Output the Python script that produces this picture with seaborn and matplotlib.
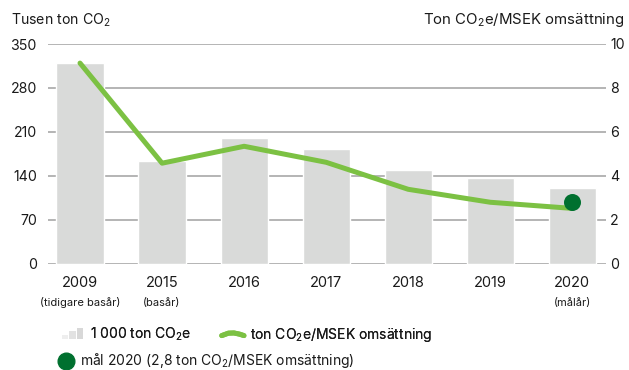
import matplotlib
matplotlib.use("Agg")
import matplotlib.pyplot as plt
import seaborn as sns
import pandas as pd
from matplotlib.patches import Rectangle
from matplotlib.lines import Line2D
from matplotlib.legend_handler import HandlerBase
import matplotlib.transforms as mtransforms

# Data
years = ["2009", "2015", "2016", "2017", "2018", "2019", "2020"]
year_notes = ["(tidigare basår)", "(basår)", "", "", "", "", "(målår)"]
emissions_kt = [320, 163, 200, 182, 149, 136, 120]          # tusen ton CO2e
intensity = [9.13, 4.57, 5.34, 4.61, 3.38, 2.79, 2.51]       # ton CO2e / MSEK
goal_year = "2020"
goal_value = 2.8

left_ticks = [0, 70, 140, 210, 280, 350]
right_ticks = [0, 2, 4, 6, 8, 10]

BAR = "#d9dad9"
LINE = "#7cc143"
DOT = "#00702f"
GRID = "#a0a0a0"
TXT = "#1a1a1a"

sns.set_style("white")
plt.rcParams["font.family"] = ["Inter", "DejaVu Sans"]
plt.rcParams["mathtext.default"] = "regular"
plt.rcParams["text.color"] = TXT

CO2 = "CO$_2$"

df = pd.DataFrame({"year": years, "pos": range(len(years)),
                   "emissions": emissions_kt, "intensity": intensity})

fig = plt.figure(figsize=(6.29, 3.70), dpi=100)
ax = fig.add_axes([48 / 629, 1 - 263.5 / 370, (606 - 48) / 629, (263.5 - 44) / 370])

# gridlines behind bars
for t in left_ticks:
    ax.axhline(t, color=GRID, lw=1.1, zorder=0)

sns.barplot(data=df, x="pos", y="emissions", color=BAR, width=0.575,
            saturation=1, ax=ax, zorder=2, native_scale=True)
xlim = (-0.39, 6.41)
ax.set_xlim(*xlim)
ax.set_ylim(0, 350)
ax.set_yticks(left_ticks)
ax.set_yticklabels([str(t) for t in left_ticks], fontsize=10.2)
ax.set_xticks(range(len(years)))
ax.set_xticklabels(years, fontsize=10.5)
ax.tick_params(axis="both", length=0, pad=8, colors=TXT)
ax.tick_params(axis="x", pad=9)
ax.set_xlabel("")
ax.set_ylabel("")
for s in ax.spines.values():
    s.set_visible(False)

ax2 = ax.twinx()
sns.lineplot(data=df, x="pos", y="intensity", color=LINE, lw=3.6,
             solid_capstyle="round", ax=ax2, zorder=3)
ax2.scatter([years.index(goal_year)], [goal_value], s=150, color=DOT,
            zorder=4, linewidths=0)
ax2.set_ylim(0, 10)
ax2.set_xlim(*xlim)
ax2.set_yticks(right_ticks)
ax2.set_yticklabels([str(t) for t in right_ticks], fontsize=10.2)
ax2.tick_params(axis="y", length=0, pad=3, colors=TXT)
ax2.set_ylabel("")
for s in ax2.spines.values():
    s.set_visible(False)

# sub-labels under the years
trans = mtransforms.blended_transform_factory(ax.transData, fig.transFigure)
for i, note in enumerate(year_notes):
    if note:
        ax.text(i, 1 - 303 / 370, note, transform=trans, ha="center",
                va="center", fontsize=8, color=TXT)

# axis titles
fig.text(11 / 629, 1 - 20 / 370, f"Tusen ton {CO2}", ha="left", va="center",
         fontsize=10.2)
fig.text(624 / 629, 1 - 20 / 370, f"Ton {CO2}e/MSEK omsättning", ha="right",
         va="center", fontsize=10.8)


class BarsIcon(HandlerBase):
    def create_artists(self, legend, orig, xd, yd, w, h, fs, trans):
        x0, y0 = -xd, -yd
        arts = []
        bw = w / 3.6
        gap = bw * 0.2
        for i, (frac, c) in enumerate(zip([0.5, 0.85, 1.15],
                                          ["#eeeeee", "#e2e2e2", "#d8d8d8"])):
            r = Rectangle((x0 + i * (bw + gap), y0 - 0.05 * h), bw, h * frac,
                          facecolor=c, edgecolor="none", transform=trans)
            arts.append(r)
        return arts


class WaveIcon(HandlerBase):
    def create_artists(self, legend, orig, xd, yd, w, h, fs, trans):
        x0, y0 = -xd, -yd
        xs = [x0, x0 + 0.3 * w, x0 + 0.55 * w, x0 + 0.8 * w, x0 + w]
        ys = [y0 + 0.35 * h, y0 + 0.6 * h, y0 + 0.62 * h, y0 + 0.5 * h, y0 + 0.35 * h]
        ln = Line2D(xs, ys, color=LINE, lw=3.6, solid_capstyle="round",
                    solid_joinstyle="round", transform=trans)
        return [ln]


bar_h = Rectangle((0, 0), 1, 1)
line_h = Line2D([], [])
leg1 = fig.legend([bar_h, line_h],
                  [f"1 000 ton {CO2}e", f"ton {CO2}e/MSEK omsättning"],
                  handler_map={bar_h: BarsIcon(), line_h: WaveIcon()},
                  loc="center left", bbox_to_anchor=(62 / 629, 1 - 335 / 370),
                  ncol=2, frameon=False, fontsize=10, handlelength=1.6,
                  handletextpad=0.4, columnspacing=2.2, borderaxespad=0,
                  borderpad=0)
dot_h = Line2D([], [], marker="o", color=DOT, markersize=12, lw=0)
leg2 = fig.legend([dot_h], [f"mål 2020 (2,8 ton {CO2}/MSEK omsättning)"],
                  loc="center left", bbox_to_anchor=(58 / 629, 1 - 361 / 370),
                  frameon=False, fontsize=10, handlelength=1.1,
                  handletextpad=0.5, borderaxespad=0, borderpad=0)
fig.add_artist(leg1)

fig.savefig("out.png", dpi=100)
